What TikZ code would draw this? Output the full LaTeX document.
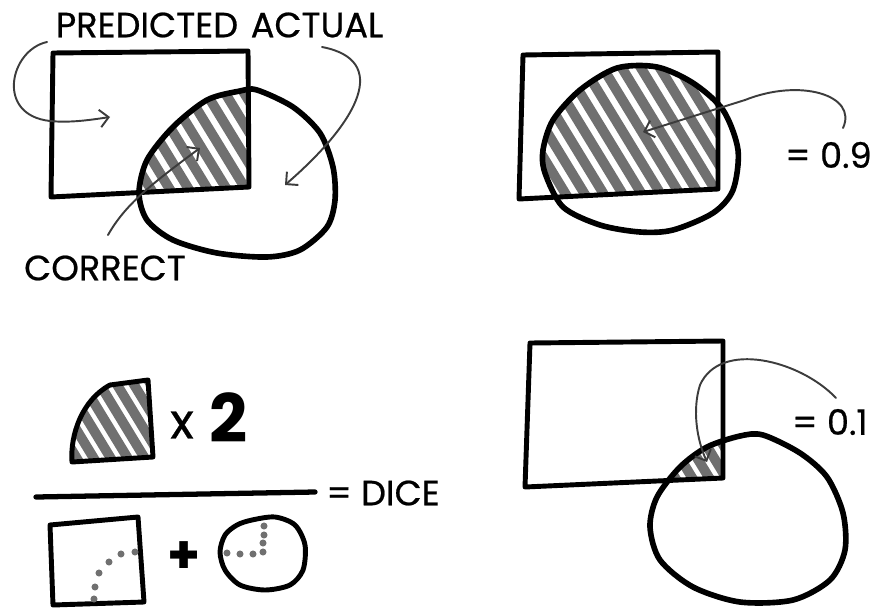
\documentclass[tikz,border=0pt]{standalone}
\usepackage{fontspec}
\setmainfont{Poppins}
\usepackage{tikz}
\usetikzlibrary{arrows.meta, calc}

\definecolor{hatchgray}{HTML}{707070}
\definecolor{pengray}{HTML}{3C3C3C}

\begin{document}
\begin{tikzpicture}[x=0.02cm, y=-0.02cm,
    outline/.style={line width=2.8pt, line join=round, line cap=round},
    hatch/.style={line width=5.6pt, hatchgray, line cap=round},
    pointer/.style={line width=1.1pt, pengray, line cap=round, -{Straight Barb[length=5pt, width=10pt]}},
    label/.style={inner sep=0pt, font=\fontsize{20}{20}\selectfont\addfontfeature{FakeBold=0.6}},
    dot/.style={hatchgray}]
    \useasboundingbox (0,0) rectangle (874,608);
    \clip (0,0) rectangle (874,608);

    % top left: predicted, actual, correct
    \begin{scope}
      \clip (53,53) -- (248,51) -- (249,187) -- (51,197) -- cycle;
      \clip plot[smooth cycle] coordinates {(257,90) (293,107) (320,133) (333,167) (335,200) (327,227) (300,250) (267,257) (217,253) (173,240) (147,220) (139,193) (147,160) (173,127) (207,100) (240,91)};
      \foreach \s in {40,59,...,280} \draw[hatch] (\s,70) -- ++(80,131);
    \end{scope}
    \draw[outline] (53,53) -- (248,51) -- (249,187) -- (51,197) -- cycle;
    \draw[outline, line width=3.2pt] plot[smooth cycle] coordinates {(257,90) (293,107) (320,133) (333,167) (335,200) (327,227) (300,250) (267,257) (217,253) (173,240) (147,220) (139,193) (147,160) (173,127) (207,100) (240,91)};

    \node[label] (predicted) at (147,25) {PREDICTED};
    \node[label] (actual) at (317,25) {ACTUAL};
    \node[label] (correct) at (105,268) {CORRECT};
    \coordinate (pred tail) at (47,42);
    \coordinate (pred head) at (110,117);
    \coordinate (act tail) at (322,47);
    \coordinate (act head) at (285,185);
    \coordinate (corr tail) at (108,235);
    \coordinate (corr head) at (200,148);
    \draw[pointer] (pred tail) .. controls (10,50) and (-5,115) .. (50,121) .. controls (70,123) and (90,120) .. (pred head);
    \draw[pointer] (act tail) .. controls (390,60) and (360,120) .. (act head);
    \draw[pointer] (corr tail) .. controls (125,205) and (150,185) .. (corr head);

    % top right: big overlap
    \begin{scope}
      \clip (523,55) -- (718,52) -- (718,189) -- (519,199) -- cycle;
      \clip plot[smooth cycle] coordinates {(657,67) (693,83) (723,110) (738,150) (733,190) (713,213) (673,230) (640,232) (600,225) (563,207) (545,173) (543,150) (553,120) (580,90) (617,68)};
      \foreach \s in {440,459,...,760} \draw[hatch] (\s,50) -- ++(95,156);
    \end{scope}
    \draw[outline] (523,55) -- (718,52) -- (718,189) -- (519,199) -- cycle;
    \draw[outline, line width=3.2pt] plot[smooth cycle] coordinates {(657,67) (693,83) (723,110) (738,150) (733,190) (713,213) (673,230) (640,232) (600,225) (563,207) (545,173) (543,150) (553,120) (580,90) (617,68)};

    \node[label, anchor=east] (high score) at (872,155) {= 0.9};
    \coordinate (high tail) at (843,128);
    \coordinate (high head) at (643,132);
    \draw[pointer] (high tail) .. controls (858,95) and (800,78) .. (745,100) -- (high head);

    % bottom left: dice formula
    \begin{scope}
      \clip (72,462) .. controls (70,435) and (82,400) .. (110,385) -- (148,380) -- (153,457) -- cycle;
      \foreach \s in {0,17,...,180} \draw[hatch] (\s,360) -- ++(70,115);
    \end{scope}
    \draw[outline] (72,462) .. controls (70,435) and (82,400) .. (110,385) -- (148,380) -- (153,457) -- cycle;
    \node[inner sep=0pt, font=\fontsize{28}{28}\selectfont\addfontfeature{FakeBold=0.6}] (times) at (182,425) {x};
    \node[inner sep=0pt, font=\fontsize{38}{38}\selectfont\bfseries] (two) at (229,418) {2};

    \draw[outline, line width=3pt] (36,497) -- (315,492);
    \node[label, anchor=west] (dice) at (326,493) {= DICE};

    \draw[outline] (50,525) -- (138,517) -- (144,602) -- (53,605) -- cycle;
    \foreach \p in {(135,552),(121,554),(109,562),(99,573),(95,587),(94,599)}
      \fill[dot] \p circle (2pt);
    \node[inner sep=0pt, font=\fontsize{30}{30}\selectfont\bfseries] (plus) at (184,558) {+};
    \draw[outline] plot[smooth cycle] coordinates {(252,520) (275,517) (295,525) (305,545) (303,570) (290,585) (265,590) (240,585) (225,570) (220,552) (225,535) (237,525)};
    \foreach \p in {(227,553),(240,554),(253,554),(263,552),(263,543),(264,535),(264,526)}
      \fill[dot] \p circle (2pt);

    % bottom right: small overlap
    \begin{scope}
      \clip (530,343) -- (723,341) -- (723,478) -- (525,487) -- cycle;
      \clip plot[smooth cycle] coordinates {(763,435) (800,453) (827,477) (843,513) (845,550) (830,580) (793,600) (740,602) (693,587) (660,560) (650,527) (657,497) (680,467) (707,447) (740,436)};
      \foreach \s in {640,657,...,740} \draw[hatch] (\s,420) -- ++(45,74);
    \end{scope}
    \draw[outline] (530,343) -- (723,341) -- (723,478) -- (525,487) -- cycle;
    \draw[outline, line width=3.2pt] plot[smooth cycle] coordinates {(763,435) (800,453) (827,477) (843,513) (845,550) (830,580) (793,600) (740,602) (693,587) (660,560) (650,527) (657,497) (680,467) (707,447) (740,436)};

    \node[label, anchor=east] (low score) at (868,422) {= 0.1};
    \coordinate (low tail) at (836,398);
    \coordinate (low head) at (707,462);
    \draw[pointer] (low tail) .. controls (800,360) and (720,340) .. (700,385) .. controls (692,410) and (697,440) .. (low head);
\end{tikzpicture}
\end{document}
